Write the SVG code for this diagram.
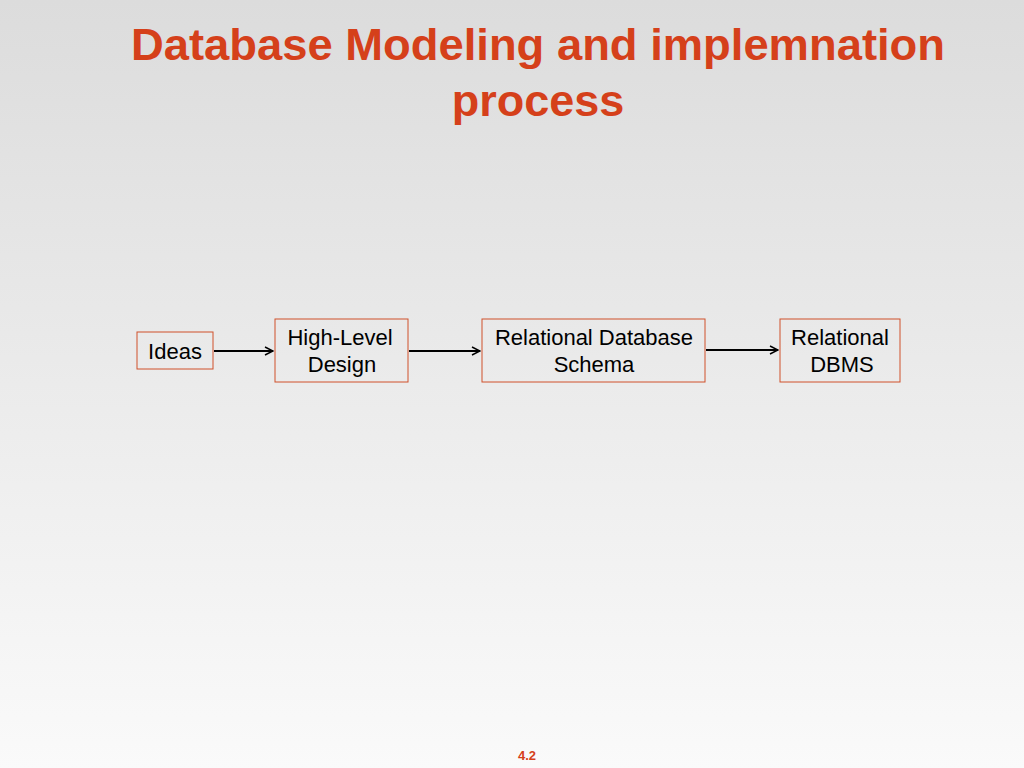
<svg xmlns="http://www.w3.org/2000/svg" width="1024" height="768" viewBox="0 0 1024 768">
<defs>
<linearGradient id="bg" x1="0" y1="0" x2="0" y2="1"><stop offset="0" stop-color="#dcdcdc"/><stop offset="1" stop-color="#fafafa"/></linearGradient>
<marker id="ah" markerWidth="10" markerHeight="10" refX="9" refY="5" orient="auto" markerUnits="userSpaceOnUse"><path d="M1,1 L9,5 L1,9" fill="none" stroke="#000" stroke-width="1.5"/></marker>
</defs>
<style>
.box{fill:none;stroke:#d0502a;stroke-width:1}
.t{font-family:"Liberation Sans",Arial,sans-serif;font-size:22px;fill:#000;text-anchor:middle}
.c{stroke:#000;stroke-width:2;fill:none;marker-end:url(#ah)}
</style>
<rect width="1024" height="768" fill="url(#bg)"/>
<g font-family="Liberation Sans,Arial,sans-serif" font-weight="bold" font-size="45" fill="#d5401a" text-anchor="middle">
<text x="538" y="60" textLength="814" lengthAdjust="spacingAndGlyphs">Database Modeling and implemnation</text>
<text x="538" y="116">process</text>
</g>
<g id="ideas"><rect class="box" x="137" y="332" width="76" height="37"/><text class="t" x="175" y="359">Ideas</text></g>
<g id="hld"><rect class="box" x="275" y="319" width="133" height="63"/><text class="t" x="340" y="345">High-Level</text><text class="t" x="342" y="372">Design</text></g>
<g id="rds"><rect class="box" x="482" y="319" width="223" height="63"/><text class="t" x="594" y="345">Relational Database</text><text class="t" x="594" y="372">Schema</text></g>
<g id="dbms"><rect class="box" x="780" y="319" width="120" height="63"/><text class="t" x="840" y="345">Relational</text><text class="t" x="842" y="372">DBMS</text></g>
<g id="connectors">
<line class="c" x1="214" y1="351" x2="273" y2="351"/>
<line class="c" x1="409" y1="351" x2="480" y2="351"/>
<line class="c" x1="706" y1="350" x2="778" y2="350"/>
</g>
<text x="527" y="760" font-family="Liberation Sans,Arial,sans-serif" font-weight="bold" font-size="13" fill="#d5401a" text-anchor="middle">4.2</text>
</svg>
